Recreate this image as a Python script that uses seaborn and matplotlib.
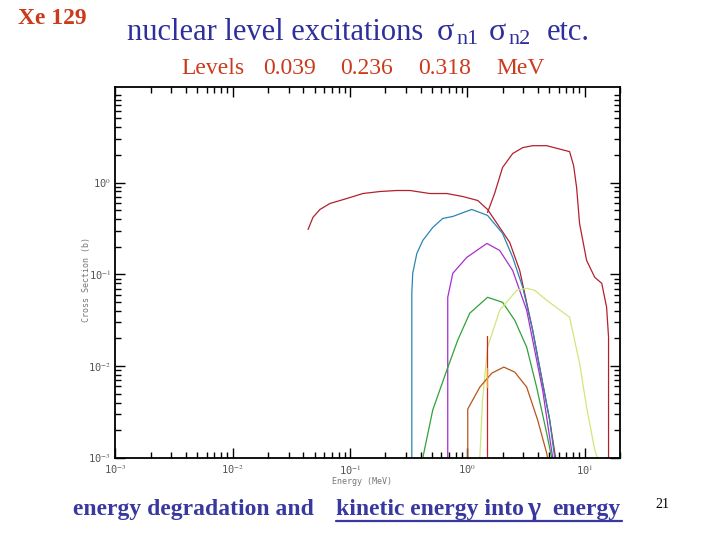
import numpy as np
import matplotlib
matplotlib.use("Agg")
import matplotlib.pyplot as plt
from matplotlib.lines import Line2D
from matplotlib.ticker import LogLocator, NullFormatter
import seaborn as sns

# Data: energy in MeV, cross section in barns
# first level (0.039 MeV), plateau then steep fall
red_a_e = [0.044, 0.0484, 0.0556, 0.0676, 0.0942, 0.129, 0.180, 0.251, 0.325, 0.480,
           0.670, 0.917, 1.23, 1.49, 1.89, 2.30, 2.80, 3.61, 4.39, 5.04, 5.66]
red_a_s = [0.308, 0.417, 0.509, 0.591, 0.670, 0.759, 0.798, 0.819, 0.819, 0.759,
           0.759, 0.704, 0.637, 0.509, 0.324, 0.223, 0.110, 0.0246, 0.00653, 0.00259, 0.001]
# big red curve rising above 1.5 MeV
red_b_e = [1.49, 1.71, 2.00, 2.44, 2.97, 3.61, 4.75, 7.45, 8.06, 8.55, 9.06, 10.4, 12.2,
           14.0, 15.4, 16.0, 16.0]
red_b_s = [0.472, 0.759, 1.46, 2.07, 2.40, 2.52, 2.52, 2.17, 1.53, 0.883, 0.358, 0.142,
           0.0928, 0.0798, 0.0438, 0.0207, 0.001]
# second level (blue)
blue_e = [0.337, 0.337, 0.343, 0.372, 0.418, 0.508, 0.618, 0.753, 1.09, 1.28, 1.49,
          2.00, 2.44, 2.97, 3.61, 4.39, 5.04, 5.56]
blue_s = [0.001, 0.0621, 0.1026, 0.169, 0.234, 0.324, 0.406, 0.427, 0.509, 0.472, 0.438,
          0.279, 0.153, 0.0722, 0.0246, 0.00653, 0.00259, 0.001]
# third level (purple)
purple_e = [0.682, 0.682, 0.753, 0.991, 1.47, 1.89, 2.44, 3.21, 3.61, 4.39, 5.35]
purple_s = [0.001, 0.0562, 0.1026, 0.153, 0.217, 0.182, 0.110, 0.0406, 0.0192, 0.00548, 0.001]
# green
green_e = [0.418, 0.508, 0.670, 0.830, 1.05, 1.49, 2.00, 2.54, 3.21, 3.90, 4.75, 5.24]
green_s = [0.001, 0.00332, 0.00905, 0.0192, 0.0377, 0.0562, 0.0496, 0.0316, 0.0161,
           0.00591, 0.00187, 0.001]
# yellow-green
yellow_e = [1.28, 1.35, 1.49, 1.89, 2.64, 3.21, 3.75, 4.75, 7.45, 9.06, 10.4, 12.2, 12.9]
yellow_s = [0.001, 0.00427, 0.0161, 0.0406, 0.0670, 0.0705, 0.0670, 0.0522, 0.0341,
            0.0108, 0.00358, 0.00122, 0.001]
# brown
brown_e = [1.01, 1.01, 1.28, 1.62, 2.05, 2.54, 3.21, 3.98, 4.75, 4.84]
brown_s = [0.001, 0.00341, 0.00591, 0.00839, 0.00976, 0.00861, 0.00591, 0.00259, 0.00113, 0.001]
# threshold line (bright red) and short orange segment
thr_e = [1.47, 1.47]
thr_s = [0.001, 0.0212]
orange_e = [1.47, 1.47]
orange_s = [0.00591, 0.00953]

series = [
    (red_a_e, red_a_s, "#b3202e"),
    (red_b_e, red_b_s, "#b3202e"),
    (blue_e, blue_s, "#2b86b5"),
    (purple_e, purple_s, "#a62fcf"),
    (green_e, green_s, "#2fa23a"),
    (yellow_e, yellow_s, "#cfe77a"),
    (brown_e, brown_s, "#b8541c"),
    (thr_e, thr_s, "#cf2424"),
    (orange_e, orange_s, "#f0a020"),
]

x_ticks = [1e-3, 1e-2, 1e-1, 1e0, 1e1]
x_labels = ["10$^{-3}$", "10$^{-2}$", "10$^{-1}$", "10$^{0}$", "10$^{1}$"]
y_ticks = [1e-3, 1e-2, 1e-1, 1e0]
y_labels = ["10$^{-3}$", "10$^{-2}$", "10$^{-1}$", "10$^{0}$"]

sns.set_theme(style="white")
plt.rcParams["font.family"] = ["Liberation Serif", "DejaVu Sans"]
plt.rcParams["mathtext.fontset"] = "stix"

fig = plt.figure(figsize=(7.2, 5.4), dpi=100)
ax = fig.add_axes([0.160, 0.152, 0.701, 0.687])

for e, s, c in series:
    sns.lineplot(x=e, y=s, sort=False, estimator=None, color=c, linewidth=0.9, ax=ax)

ax.set_xscale("log")
ax.set_yscale("log")
ax.set_xlim(1e-3, 20)
ax.set_ylim(1e-3, 11)

tick_font = dict(family="DejaVu Sans Mono", size=7.5, color="#555555")
ax.set_xticks(x_ticks)
ax.set_xticklabels(x_labels, **tick_font)
ax.set_yticks(y_ticks)
ax.set_yticklabels(y_labels, **tick_font)
ax.xaxis.set_minor_locator(LogLocator(base=10, subs=np.arange(2, 10)))
ax.yaxis.set_minor_locator(LogLocator(base=10, subs=np.arange(2, 10)))
ax.xaxis.set_minor_formatter(NullFormatter())
ax.yaxis.set_minor_formatter(NullFormatter())
ax.tick_params(which="both", direction="in", top=True, right=True, bottom=True, left=True,
               color="black", width=1.0)
ax.tick_params(axis="x", which="major", pad=4)
ax.tick_params(axis="y", which="major", pad=3)
ax.tick_params(which="major", length=7)
ax.tick_params(which="minor", length=4.5)
for sp in ax.spines.values():
    sp.set_color("black")
    sp.set_linewidth(1.3)
ax.set_xlabel("")
ax.set_ylabel("")
ax.grid(False)

fig.text(86 / 720, 1 - 280 / 540, "Cross Section (b)", rotation=90, ha="center", va="center",
         family="DejaVu Sans Mono", size=6, color="#777777")
fig.text(362 / 720, 1 - 481 / 540, "Energy (MeV)", ha="center", va="center",
         family="DejaVu Sans Mono", size=6, color="#777777")

fig.text(18 / 720, 1 - 18 / 540, "Xe 129", ha="left", va="center", size=17,
         weight="bold", color="#cc3a1c")

title_color = "#2e2e9c"
fig.text(127 / 720, 1 - 32 / 540, "nuclear level excitations", ha="left", va="center",
         size=22, color=title_color)
fig.text(437 / 720, 1 - 32 / 540, "σ", ha="left", va="center", size=23, color=title_color)
fig.text(456 / 720, 1 - 40 / 540, "n1", ha="left", va="center", size=16, color=title_color)
fig.text(489 / 720, 1 - 32 / 540, "σ", ha="left", va="center", size=23, color=title_color)
fig.text(508 / 720, 1 - 40 / 540, "n2", ha="left", va="center", size=16, color=title_color)
fig.text(547 / 720, 1 - 32 / 540, "etc.", ha="left", va="center", size=22, color=title_color)

levels_color = "#cc3a1c"
fig.text(181 / 720, 1 - 68 / 540, "Levels", ha="left", va="center", size=17, color=levels_color)
fig.text(263 / 720, 1 - 68 / 540, "0.039", ha="left", va="center", size=17, color=levels_color)
fig.text(340 / 720, 1 - 68 / 540, "0.236", ha="left", va="center", size=17, color=levels_color)
fig.text(418 / 720, 1 - 68 / 540, "0.318", ha="left", va="center", size=17, color=levels_color)
fig.text(496 / 720, 1 - 68 / 540, "MeV", ha="left", va="center", size=17, color=levels_color)

bottom_color = "#3838a0"
fig.text(73 / 720, 1 - 510 / 540, "energy degradation and", ha="left", va="center",
         size=17, weight="bold", color=bottom_color)
fig.text(336 / 720, 1 - 510 / 540, "kinetic energy into", ha="left", va="center",
         size=17, weight="bold", color=bottom_color)
fig.text(527 / 720, 1 - 510 / 540, "γ", ha="left", va="center",
         size=20, weight="bold", color=bottom_color)
fig.text(552 / 720, 1 - 510 / 540, "energy", ha="left", va="center",
         size=17, weight="bold", color=bottom_color)
fig.add_artist(Line2D([336 / 720, 622 / 720], [1 - 521 / 540, 1 - 521 / 540],
                      color=bottom_color, linewidth=1.6))
fig.text(655 / 720, 1 - 505 / 540, "21", ha="left", va="center", size=10, color="black")

fig.savefig("out.png", dpi=100, facecolor="white")
